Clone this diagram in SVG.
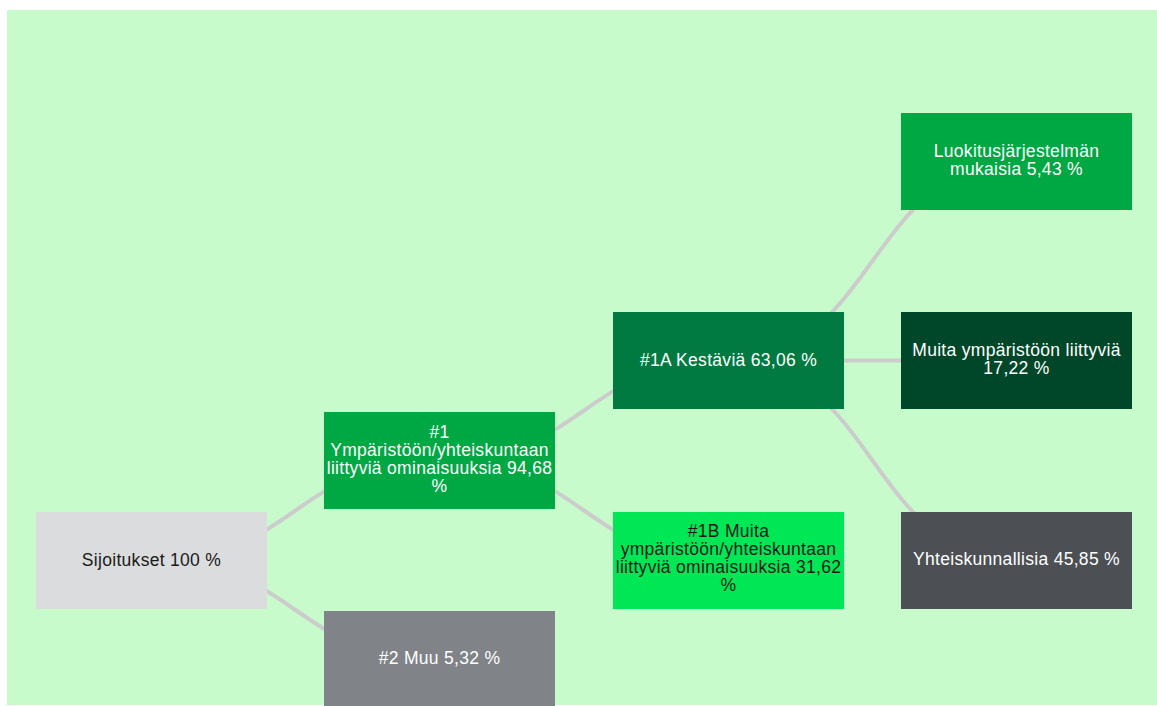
<svg xmlns="http://www.w3.org/2000/svg" width="1157" height="706" viewBox="0 0 1157 706">
<style>
.bg{fill:#c8fbcb}
.link{fill:none;stroke:#cccccc;stroke-width:4}
.lbl{font-family:"Liberation Sans",Arial,sans-serif;font-size:17.5px;letter-spacing:0.3px;text-anchor:middle;fill:#ffffff}
.dark{fill:#1a1a1a}
</style>
<rect x="0" y="0" width="1157" height="706" fill="#ffffff"/>
<rect class="bg" x="7" y="10" width="1150" height="695"/>
<g id="connectors">
<path class="link" d="M151.5,560.5 C295.5,560.5 295.5,460.5 439.5,460.5"/>
<path class="link" d="M151.5,560.5 C295.5,560.5 295.5,659.5 439.5,659.5"/>
<path class="link" d="M439.5,460.5 C584,460.5 584,360.5 728.5,360.5"/>
<path class="link" d="M439.5,460.5 C584,460.5 584,560.5 728.5,560.5"/>
<path class="link" d="M728.5,360.5 C872.5,360.5 872.5,161.5 1016.5,161.5"/>
<path class="link" d="M728.5,360.5 L1016.5,360.5"/>
<path class="link" d="M728.5,360.5 C872.5,360.5 872.5,560.5 1016.5,560.5"/>
</g>
<g id="sijoitukset">
<rect x="36" y="512" width="231" height="97" fill="#dadcdd"/>
<text class="lbl dark" x="151.5" y="566">Sijoitukset 100 %</text>
</g>
<g id="n1">
<rect x="324" y="412" width="231" height="97" fill="#00a843"/>
<text class="lbl" x="439.5" y="438"><tspan x="439.5" y="438">#1</tspan><tspan x="439.5" y="456">Ympäristöön/yhteiskuntaan</tspan><tspan x="439.5" y="474">liittyviä ominaisuuksia 94,68</tspan><tspan x="439.5" y="492">%</tspan></text>
</g>
<g id="n2">
<rect x="324" y="611" width="231" height="97" fill="#808387"/>
<text class="lbl" x="439.5" y="664">#2 Muu 5,32 %</text>
</g>
<g id="n1a">
<rect x="613" y="312" width="231" height="97" fill="#007a40"/>
<text class="lbl" x="728.5" y="366">#1A Kestäviä 63,06 %</text>
</g>
<g id="n1b">
<rect x="613" y="512" width="231" height="97" fill="#00e756"/>
<text class="lbl dark" x="728.5" y="537"><tspan x="728.5" y="537">#1B Muita</tspan><tspan x="728.5" y="555">ympäristöön/yhteiskuntaan</tspan><tspan x="728.5" y="573">liittyviä ominaisuuksia 31,62</tspan><tspan x="728.5" y="591">%</tspan></text>
</g>
<g id="luokitus">
<rect x="901" y="113" width="231" height="97" fill="#00a843"/>
<text class="lbl" x="1016.5" y="157"><tspan x="1016.5" y="157">Luokitusjärjestelmän</tspan><tspan x="1016.5" y="175">mukaisia 5,43 %</tspan></text>
</g>
<g id="muita">
<rect x="901" y="312" width="231" height="97" fill="#00472a"/>
<text class="lbl" x="1016.5" y="356"><tspan x="1016.5" y="356">Muita ympäristöön liittyviä</tspan><tspan x="1016.5" y="374">17,22 %</tspan></text>
</g>
<g id="yhteisk">
<rect x="901" y="512" width="231" height="97" fill="#4c5054"/>
<text class="lbl" x="1016.5" y="565">Yhteiskunnallisia 45,85 %</text>
</g>
</svg>
